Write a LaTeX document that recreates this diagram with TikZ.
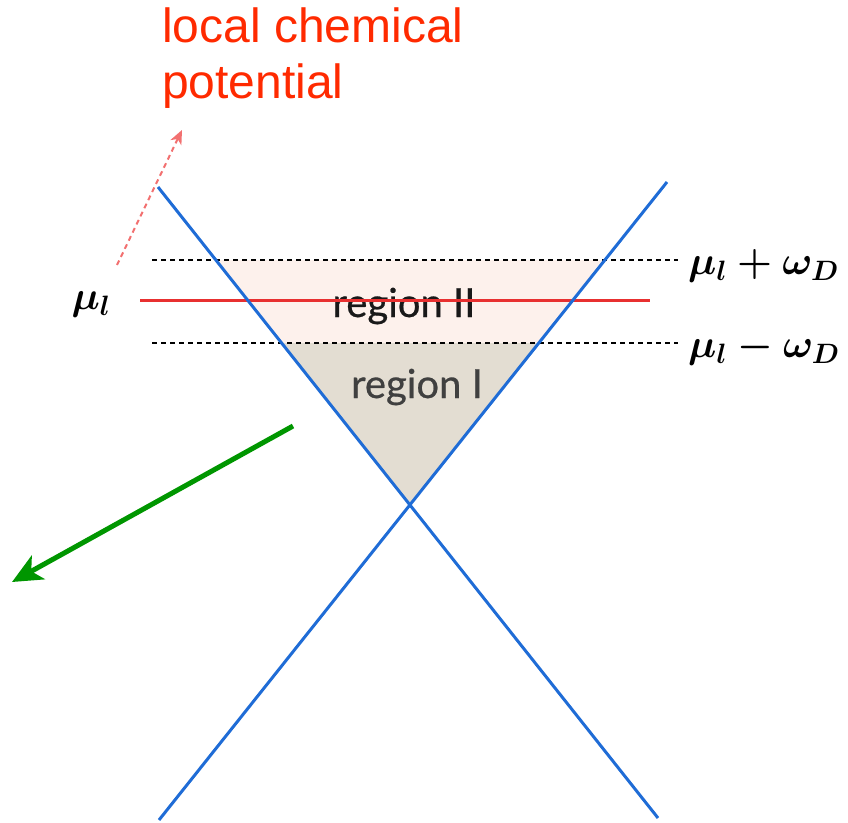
\RequirePackage{fix-cm}
\documentclass[tikz,border=0pt]{standalone}
\usepackage{fontspec}
\usetikzlibrary{arrows.meta}
\newfontfamily\labelfont{Liberation Sans}
\newfontfamily\regionfont{Lato}[FakeBold=0.6]
\definecolor{conered}{RGB}{232,48,48}
\definecolor{coneblue}{RGB}{31,108,214}
\definecolor{notered}{RGB}{255,42,0}
\definecolor{hintred}{RGB}{242,112,112}
\definecolor{arrowgreen}{RGB}{0,150,0}
\definecolor{regiontwo}{RGB}{253,241,236}
\definecolor{regionone}{RGB}{227,221,210}
\tikzset{
  coneline/.style={coneblue,line width=3pt},
  levelline/.style={black,line width=2.2pt,dash pattern=on 5pt off 4pt},
  mulabel/.style={inner sep=0pt,font=\fontsize{40}{48}\selectfont\boldmath},
  regionlabel/.style={inner sep=0pt,font=\regionfont\fontsize{40}{46}\selectfont}
}
\begin{document}
\begin{tikzpicture}[x=1pt,y=-1pt]
\useasboundingbox (0,0) rectangle (848,822);

\fill[regiontwo] (215.9,260) -- (604.9,260) -- (538.9,343) -- (281.6,343) -- cycle;
\fill[regionone] (281.6,343) -- (538.9,343) -- (410,505) -- cycle;

\coordinate (lefttop) at (158,187);
\coordinate (leftbottom) at (658,818);
\coordinate (righttop) at (667,182);
\coordinate (rightbottom) at (159,820);

\draw[levelline] (152,260) coordinate (upperstart) -- (678,260) coordinate (upperend);
\draw[levelline] (152,343) coordinate (lowerstart) -- (678,343) coordinate (lowerend);

\node[regionlabel,text=black!90,anchor=base] (regiontwolabel) at (404,317) {region II};
\node[regionlabel,text=black!75,anchor=base] (regiononelabel) at (417,398) {region I};

\draw[conered,line width=3pt] (140,300) coordinate (mustart) -- (650,300) coordinate (muend);

\draw[coneline] (lefttop) -- (leftbottom);
\draw[coneline] (righttop) -- (rightbottom);

\node[mulabel] (mu) at (91,304) {$\mu_l$};
\node[mulabel,anchor=west] (muplus) at (688,266) {$\mu_l+\omega_D$};
\node[mulabel,anchor=west] (muminus) at (688,349) {$\mu_l-\omega_D$};

\node[inner sep=0pt,anchor=north west,align=left,text=notered,
  font=\labelfont\fontsize{48}{56}\selectfont] (chemlabel) at (162,8)
  {local chemical\\potential};

\coordinate (hintstart) at (117,265);
\coordinate (hintend) at (182,130);
\draw[hintred,line width=2pt,dash pattern=on 5pt off 4pt,
  -{Stealth[length=14pt,width=12pt,inset=4pt]}] (hintstart) -- (hintend);

\coordinate (flowstart) at (293,426);
\coordinate (flowend) at (12,582);
\draw[arrowgreen,line width=5pt,-{Stealth[length=30pt,width=27pt,inset=8pt]}]
  (flowstart) -- (flowend);
\end{tikzpicture}
\end{document}
